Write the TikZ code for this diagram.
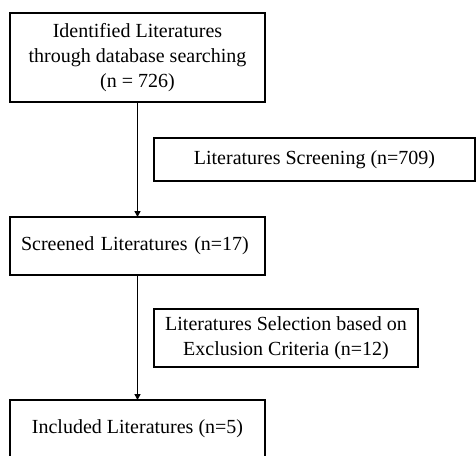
\documentclass[tikz,border=0pt]{standalone}
\usepackage{fontspec}
\setmainfont{Liberation Serif}
\usepackage{tikz}
\usetikzlibrary{positioning}
\usetikzlibrary{arrows.meta}

\begin{document}
\begin{tikzpicture}[
            x = 1pt, y = -1pt,
            > = {Triangle[length=6pt, width=6pt]}, % arrow head style
            font = \fontsize{20}{25}\selectfont,
            semithick % line style
            ]

        \tikzset{
            stage/.style = {
                draw, line width = 2.4pt,
                outer sep = 0pt,
                minimum width = 255pt,
                align = center
            },
            sidebox/.style = {
                draw, line width = 2.4pt,
                outer sep = 0pt,
                align = center
            },
            flow/.style = {->, line width = 1.6pt}
        }

        \useasboundingbox (0,0) rectangle (476,455);
        \clip (0,0) rectangle (476,455);

        % main column
        \node[stage, minimum height = 89pt] (ID) at (137.5,57.5)
            {Identified Literatures\\through database searching\\(n = 726)};
        \node[stage, minimum height = 58pt, text width = 233pt, inner xsep = 11pt, align = left] (SCR) [below = 115pt of ID]
            {Screened Literatures (n=17)};
        \node[stage, minimum height = 58pt] (INC) [below = 125pt of SCR]
            {Included Literatures (n=5)};

        % side steps
        \node[sidebox, minimum width = 321pt, minimum height = 43pt] (SCRN) at (314.5,159.5)
            {Literatures Screening (n=709)};
        \node[sidebox, minimum width = 264pt, minimum height = 58pt] (SEL) at (286,338)
            {Literatures Selection based on\\Exclusion Criteria (n=12)};

        \path[flow] (ID) edge (SCR);
        \path[flow] (SCR) edge (INC);

\end{tikzpicture}
\end{document}
